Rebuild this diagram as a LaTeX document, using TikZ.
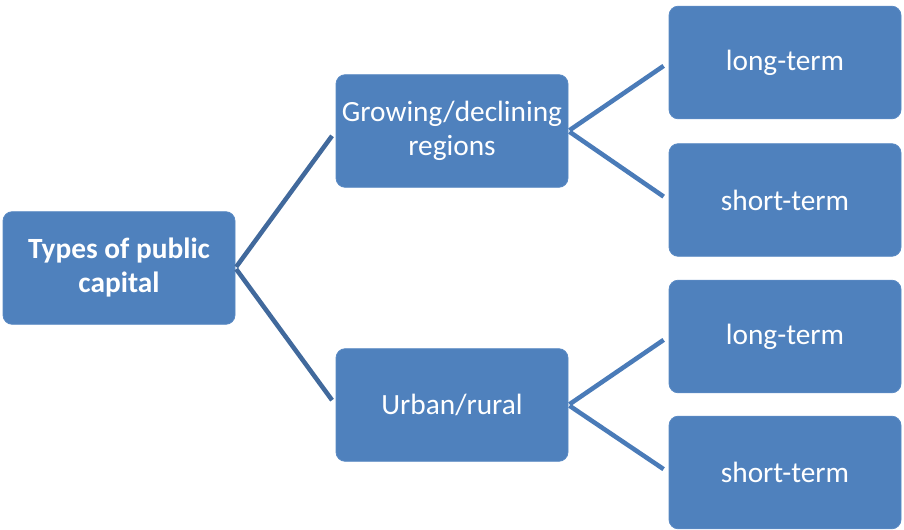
\documentclass[tikz,border=0pt]{standalone}
\usepackage{fontspec}
\setmainfont{Carlito}
\usepackage{tikz}

\definecolor{boxblue}{HTML}{4F81BD}
\definecolor{boxedge}{HTML}{5A8AC4}
\definecolor{rootline}{HTML}{41699C}
\definecolor{midline}{HTML}{4A7BB8}

\begin{document}
\begin{tikzpicture}[x=0.75pt, y=-0.75pt,
    block/.style={rectangle, rounded corners=7pt, draw=boxedge, line width=0.6pt,
      fill=boxblue, text=white, align=center, font=\fontsize{22}{25.5}\selectfont,
      minimum width=174pt, minimum height=84.5pt, inner sep=2pt},
    root/.style={block, font=\bfseries\fontsize{22}{25.5}\selectfont},
    branch/.style={line width=3.4pt, shorten >=4.5pt, shorten <=1pt}
]
  \useasboundingbox (0,0) rectangle (904,529);

  \node[root]  (types)  at (119,268) {Types of public\\capital};
  \node[block] (growth) at (452,131) {Growing/declining\\regions};
  \node[block] (urban)  at (452,405) {Urban/rural};

  \node[block] (grlong)  at (785,62.5)  {long-term};
  \node[block] (grshort) at (785,200)   {short-term};
  \node[block] (urlong)  at (785,336.5) {long-term};
  \node[block] (urshort) at (785,472.5) {short-term};

  % first level
  \foreach \to in {growth,urban}{
    \draw[branch, rootline] (types.east) -- (\to.west);
  }
  % second level
  \foreach \from/\up/\down in {growth/grlong/grshort, urban/urlong/urshort}{
    \draw[branch, midline] (\from.east) -- (\up.west);
    \draw[branch, midline] (\from.east) -- (\down.west);
  }
\end{tikzpicture}
\end{document}
